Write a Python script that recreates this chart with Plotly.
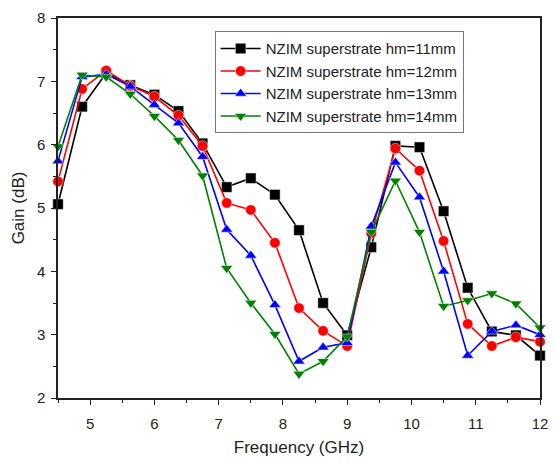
import plotly.graph_objects as go

freq = [4.5, 4.875, 5.25, 5.625, 6.0, 6.375, 6.75, 7.125, 7.5, 7.875, 8.25,
        8.625, 9.0, 9.375, 9.75, 10.125, 10.5, 10.875, 11.25, 11.625, 12.0]

gain_11 = [5.06, 6.60, 7.13, 6.94, 6.79, 6.53, 6.02, 5.33, 5.47, 5.21, 4.65,
           3.50, 2.99, 4.38, 5.98, 5.96, 4.95, 3.74, 3.05, 2.99, 2.67]
gain_12 = [5.42, 6.88, 7.17, 6.93, 6.76, 6.46, 5.98, 5.08, 4.97, 4.45, 3.42,
           3.06, 2.82, 4.60, 5.94, 5.59, 4.48, 3.17, 2.82, 2.96, 2.89]
gain_13 = [5.74, 7.07, 7.11, 6.92, 6.63, 6.34, 5.81, 4.66, 4.25, 3.47, 2.58,
           2.80, 2.87, 4.71, 5.72, 5.17, 4.00, 2.67, 3.05, 3.15, 3.00]
gain_14 = [5.97, 7.10, 7.07, 6.80, 6.45, 6.07, 5.51, 4.05, 3.50, 3.01, 2.38,
           2.58, 2.97, 4.62, 5.43, 4.62, 3.45, 3.54, 3.65, 3.49, 3.11]

names = ["NZIM superstrate hm=11mm", "NZIM superstrate hm=12mm",
         "NZIM superstrate hm=13mm", "NZIM superstrate hm=14mm"]
series = [gain_11, gain_12, gain_13, gain_14]
colors = ["#000000", "#ff0000", "#0000ff", "#008000"]
symbols = ["square", "circle", "triangle-up", "triangle-down"]

fig = go.Figure()
for n, s, c, m in zip(names, series, colors, symbols):
    fig.add_trace(go.Scatter(
        x=freq, y=s, name=n, mode="lines+markers",
        line=dict(color=c, width=1.6),
        marker=dict(symbol=m, size=10.5, color=c,
                    line=dict(color="rgba(255,255,255,0.6)", width=0.8)),
        cliponaxis=False,
    ))

axis_common = dict(
    showline=True, linecolor="#222", linewidth=1.5, mirror=True,
    ticks="outside", ticklen=5, tickwidth=1.2, tickcolor="#222",
    showgrid=False, zeroline=False,
    tickfont=dict(family="Liberation Sans, Arial", size=15, color="#222"),
)

fig.update_layout(
    width=557, height=464,
    margin=dict(l=58, r=9, t=14, b=66),
    paper_bgcolor="white", plot_bgcolor="white",
    font=dict(family="Liberation Sans, Arial", color="#222"),
    xaxis=dict(range=[4.5, 12], tick0=5, dtick=1, ticklabelstandoff=6,
               minor=dict(dtick=0.5, tick0=4.5, ticks="outside", ticklen=3,
                          tickwidth=1, tickcolor="#222"),
               title=dict(text="Frequency (GHz)", font=dict(size=17), standoff=10),
               **axis_common),
    yaxis=dict(range=[2, 8], tick0=2, dtick=1, ticklabelstandoff=3,
               minor=dict(dtick=0.5, ticks="outside", ticklen=3,
                          tickwidth=1, tickcolor="#222"),
               title=dict(text="Gain (dB)", font=dict(size=17), standoff=8),
               **axis_common),
    legend=dict(x=0.325, y=0.965, xanchor="left", yanchor="top",
                bgcolor="white", bordercolor="#777", borderwidth=1,
                font=dict(family="Liberation Sans, Arial", size=15, color="#222"),
                tracegroupgap=0, itemwidth=40),
    showlegend=True,
)

fig.write_html("out.html")
